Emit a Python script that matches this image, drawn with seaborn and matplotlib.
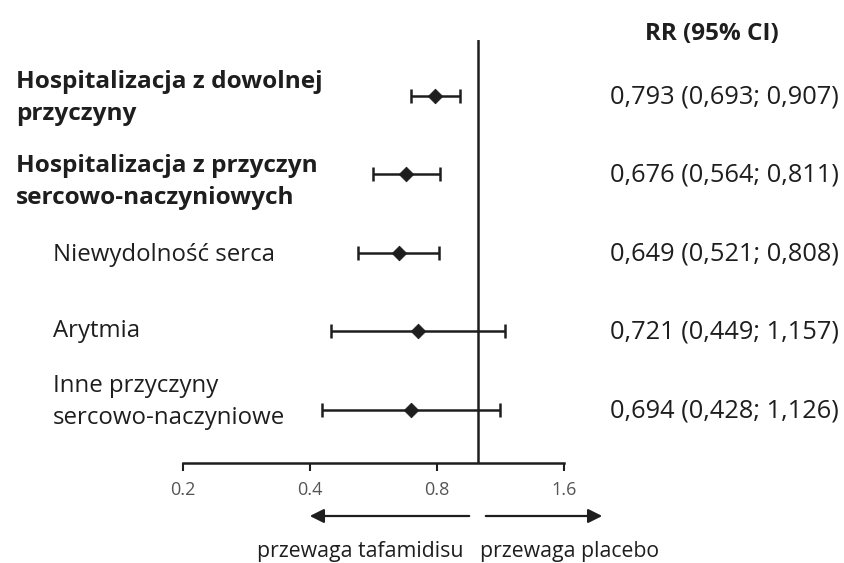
import matplotlib
matplotlib.use("Agg")
import matplotlib.pyplot as plt
import seaborn as sns
import numpy as np
import pandas as pd

# ---- data ----
outcomes = [
    "Hospitalizacja z dowolnej\nprzyczyny",
    "Hospitalizacja z przyczyn\nsercowo-naczyniowych",
    "Niewydolność serca",
    "Arytmia",
    "Inne przyczyny\nsercowo-naczyniowe",
]
bold_rows = [True, True, False, False, False]
rr = [0.793, 0.676, 0.649, 0.721, 0.694]
ci_low = [0.693, 0.564, 0.521, 0.449, 0.428]
ci_high = [0.907, 0.811, 0.808, 1.157, 1.126]
rr_text = [
    "0,793 (0,693; 0,907)",
    "0,676 (0,564; 0,811)",
    "0,649 (0,521; 0,808)",
    "0,721 (0,449; 1,157)",
    "0,694 (0,428; 1,126)",
]
x_ticks = [0.2, 0.4, 0.8, 1.6]
x_ticklabels = ["0.2", "0.4", "0.8", "1.6"]
header = "RR (95% CI)"
left_label = "przewaga tafamidisu"
right_label = "przewaga placebo"

df = pd.DataFrame({"outcome": outcomes, "rr": rr, "lo": ci_low, "hi": ci_high,
                   "row": np.arange(len(outcomes))})

sns.set_theme(style="white")
plt.rcParams["font.family"] = ["Open Sans", "DejaVu Sans"]

W, H = 845, 563
fig = plt.figure(figsize=(W / 100, H / 100), dpi=100)
ax = fig.add_axes([183 / W, 1 - 463 / H, (564 - 183) / W, (463 - 40) / H])

ink = "#1e1e1e"
ax.set_xscale("log", base=2)
ax.set_xlim(0.2, 1.6)
ax.set_ylim(4.675, -0.713)

# CI whiskers
ax.errorbar(df["rr"], df["row"],
            xerr=[df["rr"] - df["lo"], df["hi"] - df["rr"]],
            fmt="none", ecolor=ink, elinewidth=1.8, capsize=5, capthick=1.8, zorder=2)
# point estimates
sns.scatterplot(data=df, x="rr", y="row", marker="D", s=55, color=ink,
                edgecolor=ink, ax=ax, zorder=3, legend=False)

# line of no effect
ax.axvline(1.0, color=ink, lw=1.8, zorder=1)

# axes styling
for s in ["left", "right", "top"]:
    ax.spines[s].set_visible(False)
ax.spines["bottom"].set_color(ink)
ax.spines["bottom"].set_linewidth(1.8)
ax.set_xticks(x_ticks)
ax.set_xticklabels(x_ticklabels)
ax.xaxis.set_minor_locator(matplotlib.ticker.NullLocator())
ax.tick_params(axis="x", direction="out", length=6, width=1.5, color=ink,
               labelsize=13, labelcolor="#555555", pad=7, bottom=True)
ax.set_yticks([])
ax.set_xlabel("")
ax.set_ylabel("")

# left labels
tr = ax.get_yaxis_transform()
label_x = [16, 16, 53, 53, 53]
label_dy = [0.03, 0.1, 0.03, 0.0, -0.1]
for i, lab in enumerate(outcomes):
    ax.text((label_x[i] - 183) / 381, i + label_dy[i], lab, transform=tr,
            ha="left", va="center", fontsize=17.6 if bold_rows[i] else 17.3,
            fontweight="bold" if bold_rows[i] else "normal",
            color=ink, linespacing=1.45, clip_on=False)

# right column
ax.text((712 - 183) / 381, -0.79, header, transform=tr, ha="center", va="center",
        fontsize=17.5, fontweight="bold", color=ink, clip_on=False)
for i, t in enumerate(rr_text):
    ax.text((610 - 183) / 381, i + 0.01, t, transform=tr, ha="left", va="center",
            fontsize=18.3, color=ink, clip_on=False)

# direction arrows
ay = 1 - 516 / H
fig.patches.append(matplotlib.patches.FancyArrowPatch(
    (472 / W, ay), (307 / W, ay), transform=fig.transFigure,
    arrowstyle="-|>,head_length=0.6,head_width=0.3", mutation_scale=14,
    color=ink, lw=1.6))
fig.patches.append(matplotlib.patches.FancyArrowPatch(
    (483 / W, ay), (605 / W, ay), transform=fig.transFigure,
    arrowstyle="-|>,head_length=0.6,head_width=0.3", mutation_scale=14,
    color=ink, lw=1.6))
fig.text(360 / W, 1 - 551 / H, left_label, ha="center", va="center",
         fontsize=15.3, color=ink)
fig.text(570 / W, 1 - 551 / H, right_label, ha="center", va="center",
         fontsize=15.3, color=ink)

fig.savefig("out.png", dpi=100, facecolor="white")
